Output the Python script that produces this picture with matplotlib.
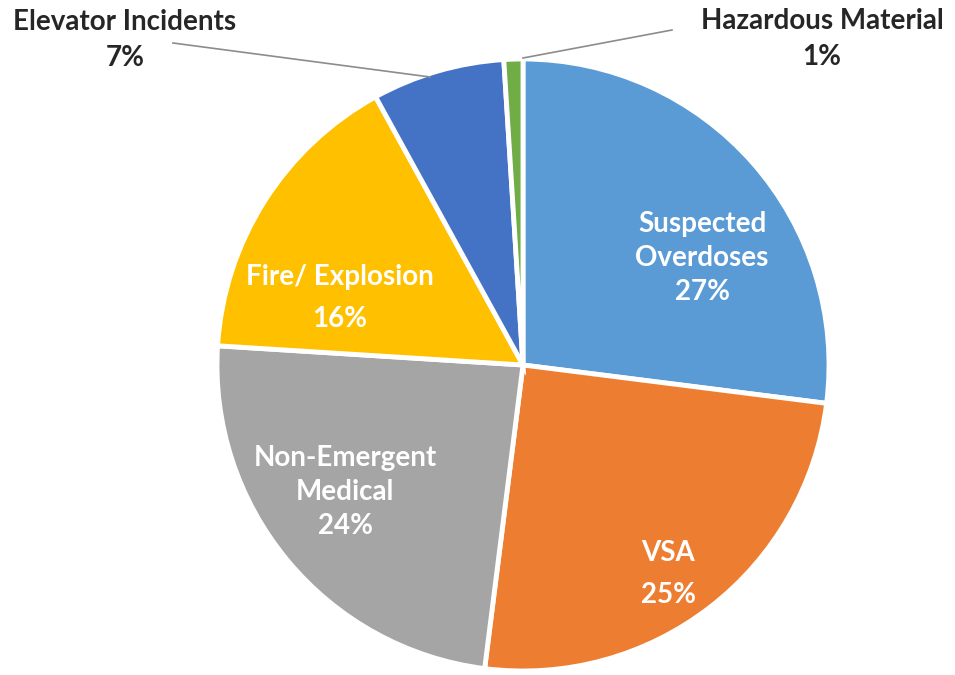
import matplotlib
matplotlib.use("Agg")
import matplotlib.pyplot as plt

categories = ["Suspected\nOverdoses", "VSA", "Non-Emergent\nMedical", "Fire/ Explosion",
              "Elevator Incidents", "Hazardous Material"]
values = [27, 25, 24, 16, 7, 1]
colors = ["#5B9BD5", "#ED7D31", "#A5A5A5", "#FFC000", "#4472C4", "#70AD47"]

W, H = 955, 675
fig = plt.figure(figsize=(W / 100, H / 100), dpi=100)
ax = fig.add_axes([0, 0, 1, 1])
ax.set_xlim(0, W)
ax.set_ylim(0, H)
ax.set_aspect("equal")
ax.axis("off")

cx, cy, r = 523, H - 365, 306
wedges, _ = ax.pie(values, colors=colors, startangle=90, counterclock=False,
                   center=(cx, cy), radius=r, explode=[0.012] * 6,
                   wedgeprops=dict(edgecolor="white", linewidth=3.5))
ax.set_xlim(0, W)
ax.set_ylim(0, H)

font = dict(family=["Lato", "DejaVu Sans"], fontweight="bold", fontsize=20,
            ha="center", va="center")

inside = {0: (702, 258, 1.4), 1: (668, 574, 1.75), 2: (345, 492, 1.4), 3: (340, 298, 1.8)}
for i, (x, y, ls) in inside.items():
    ax.text(x, H - y, f"{categories[i]}\n{values[i]}%", color="white",
            linespacing=ls, **font)

outside = {4: (125, 40, (173, 43), (430, 77)), 5: (822, 39, (672, 30), (523, 58))}
for i, (x, y, p0, p1) in outside.items():
    ax.text(x, H - y, f"{categories[i]}\n{values[i]}%", color="#262626",
            linespacing=1.5, **font)
    ax.plot([p0[0], p1[0]], [H - p0[1], H - p1[1]], color="#8c8c8c", lw=1.2)

fig.savefig("out.png", dpi=100, facecolor="white")
